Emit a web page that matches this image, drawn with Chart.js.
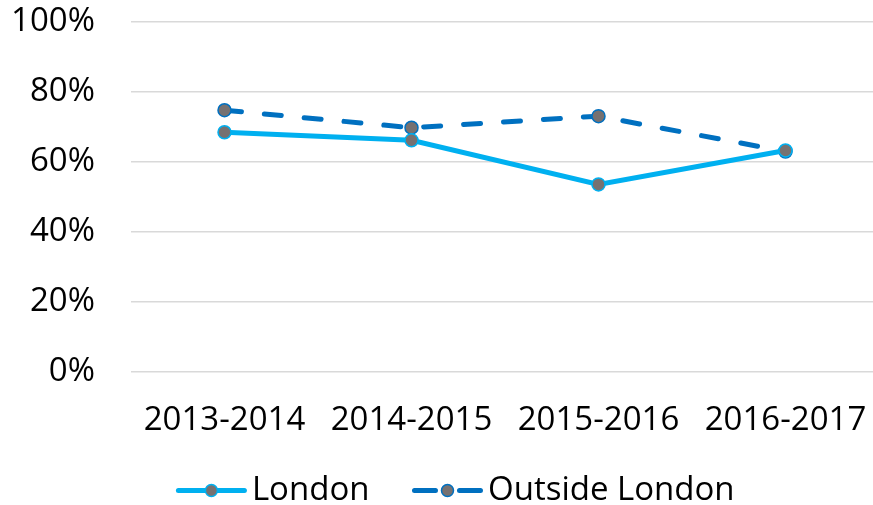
<!DOCTYPE html>
<html>
<head>
<meta charset="utf-8">
<script src="https://cdn.jsdelivr.net/npm/chart.js@4/dist/chart.umd.min.js"></script>
<style>
  html, body { margin: 0; padding: 0; background: #fff; overflow: hidden; }
  #wrap { width: 873px; height: 505px; overflow: hidden; }
</style>
</head>
<body>
<div id="wrap"><canvas id="chart" width="887" height="517"></canvas></div>
<script>
const years = ["2013-2014", "2014-2015", "2015-2016", "2016-2017"];
const london = [0.685, 0.662, 0.536, 0.633];
const outsideLondon = [0.748, 0.698, 0.731, 0.63];
const yTicks = [0, 0.2, 0.4, 0.6, 0.8, 1];

const FONT = "'Open Sans', 'Noto Sans', sans-serif";

// legend swatch: line with a marker in the middle, like the original
const legendSwatch = {
  id: "legendSwatch",
  afterLayout(chart) {
    // the original legend sits a bit right of centre
    chart.legend.left += 12;
    chart.legend.right += 12;
  },
  afterDraw(chart) {
    const legend = chart.legend;
    if (!legend || !legend.legendHitBoxes) return;
    const ctx = chart.ctx;
    const fs = legend.options.labels.font.size;
    legend.legendHitBoxes.forEach((box, i) => {
      const ds = chart.data.datasets[i];
      const y = box.top + fs / 2;
      const w = 72;
      ctx.save();
      ctx.strokeStyle = ds.borderColor;
      ctx.lineWidth = 5;
      ctx.lineCap = "round";
      ctx.setLineDash(ds.borderDash ? [21, 24] : []);
      ctx.beginPath();
      ctx.moveTo(box.left + 3, y);
      ctx.lineTo(box.left + w - 3, y);
      ctx.stroke();
      ctx.setLineDash([]);
      ctx.beginPath();
      ctx.arc(box.left + w / 2, y, 6, 0, Math.PI * 2);
      ctx.fillStyle = ds.pointBackgroundColor;
      ctx.fill();
      ctx.lineWidth = 1.5;
      ctx.stroke();
      ctx.restore();
    });
  }
};

new Chart(document.getElementById("chart"), {
  type: "line",
  data: {
    labels: years,
    datasets: [
      {
        label: "London",
        data: london,
        borderColor: "#00B0F0",
        borderWidth: 5,
        pointRadius: 6.5,
        pointBackgroundColor: "#767171",
        pointBorderColor: "#00B0F0",
        pointBorderWidth: 1.5,
        tension: 0
      },
      {
        label: "Outside London",
        data: outsideLondon,
        borderColor: "#0070C0",
        borderWidth: 5,
        borderDash: [17, 23],
        borderCapStyle: "round",
        pointRadius: 6.5,
        pointBackgroundColor: "#767171",
        pointBorderColor: "#0070C0",
        pointBorderWidth: 1.5,
        tension: 0
      }
    ]
  },
  options: {
    responsive: false,
    animation: false,
    layout: { padding: { top: 2, right: 1, bottom: 0, left: 0 } },
    plugins: {
      legend: {
        position: "bottom",
        labels: {
          boxWidth: 60,
          boxHeight: 4,
          padding: 42,
          color: "#000",
          font: { family: FONT, size: 33 },
          generateLabels(chart) {
            return chart.data.datasets.map((ds, i) => ({
              text: ds.label,
              fillStyle: "rgba(0,0,0,0)",
              strokeStyle: "rgba(0,0,0,0)",
              lineWidth: 0,
              datasetIndex: i
            }));
          }
        }
      },
      tooltip: { enabled: false }
    },
    scales: {
      x: {
        offset: true,
        grid: { display: false },
        border: { display: false },
        afterFit(axis) {
          axis.height = 60;
          axis.paddingLeft = 0;
          axis.paddingRight = 0;
        },
        ticks: {
          color: "#000",
          padding: 24,
          font: { family: FONT, size: 33, lineHeight: 1 }
        }
      },
      y: {
        min: 0,
        max: 1,
        afterBuildTicks(axis) {
          axis.ticks = yTicks.map(v => ({ value: v }));
        },
        afterFit(axis) {
          axis.width = 131;
          axis.paddingTop = 22;
          axis.paddingBottom = 0;
        },
        grid: { color: "#D9D9D9", lineWidth: 1.5, drawTicks: false },
        border: { display: false },
        ticks: {
          color: "#000",
          padding: 36,
          font: { family: FONT, size: 33 },
          callback: v => Math.round(v * 100) + "%"
        }
      }
    }
  },
  plugins: [legendSwatch]
});
</script>
</body>
</html>
